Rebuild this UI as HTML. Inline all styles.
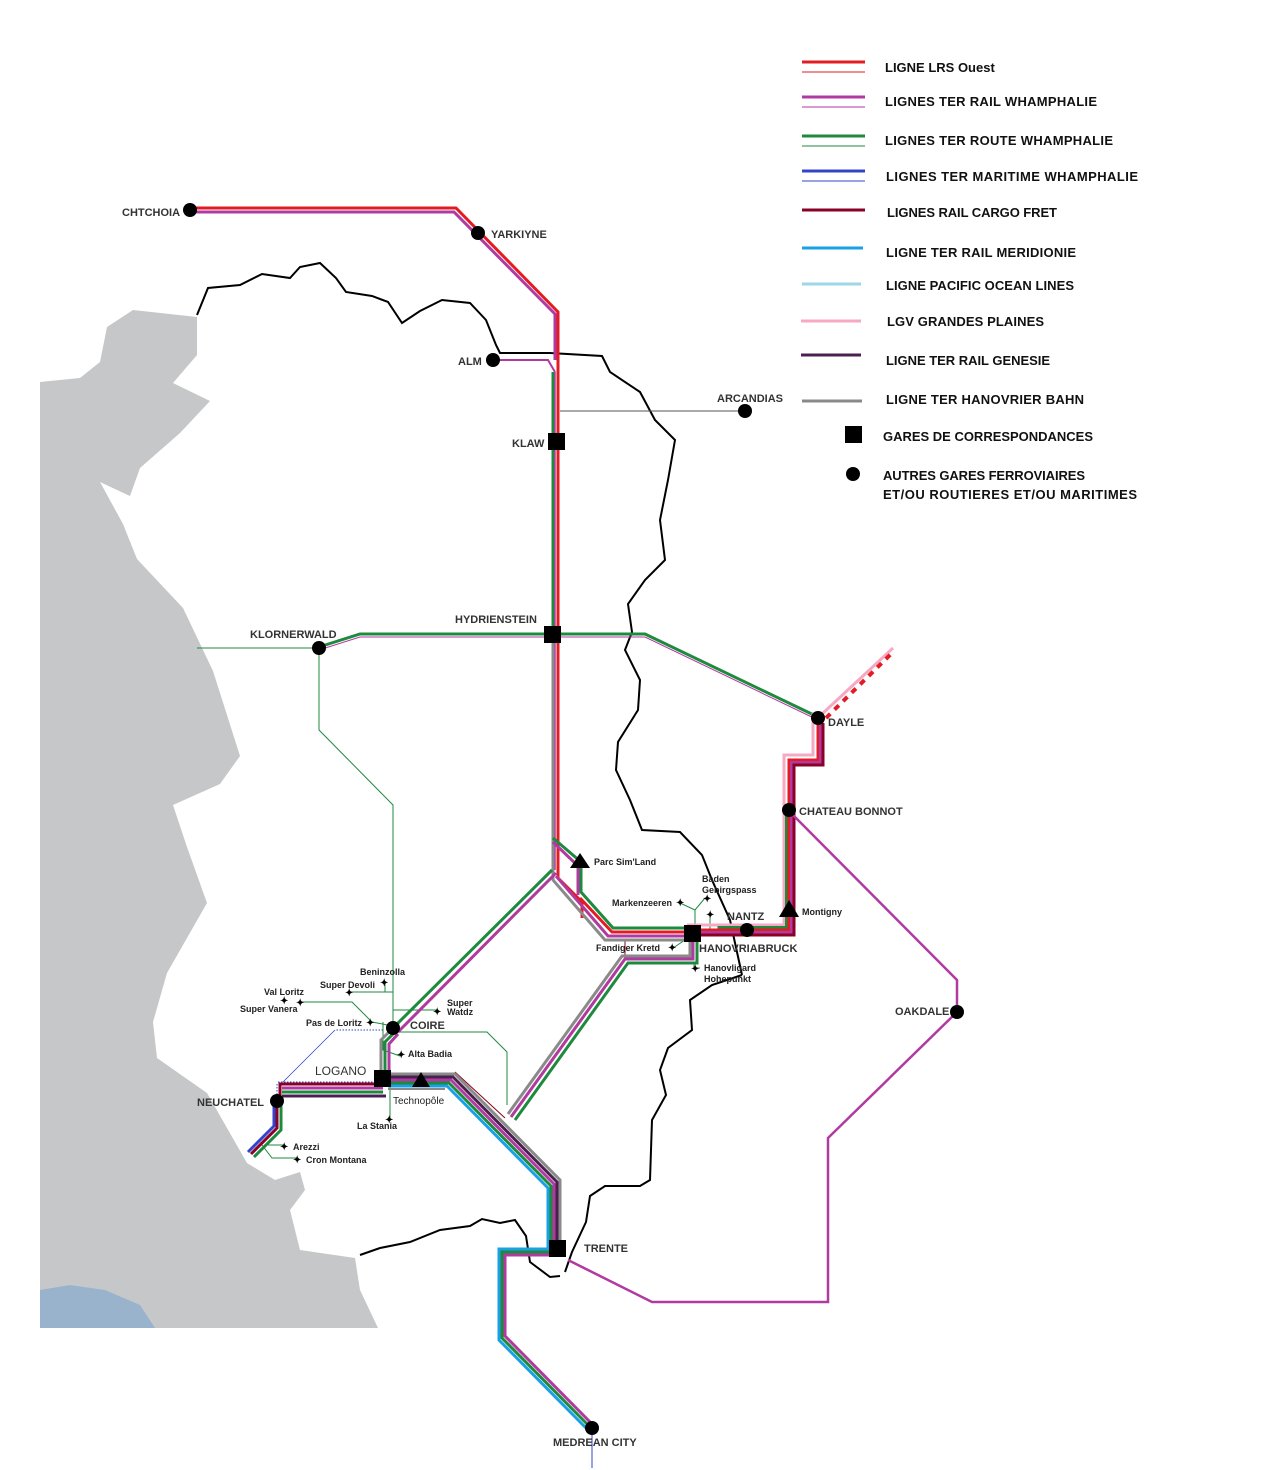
<!DOCTYPE html>
<html><head><meta charset="utf-8"><style>
html,body{margin:0;padding:0;background:#fff}
svg{display:block}
text{font-family:"Liberation Sans",Arial,sans-serif;font-weight:bold}
.lg{font-size:13px;fill:#111}
.st{font-size:11px;fill:#333}
.sm{font-size:9px;fill:#222}
</style></head><body>
<svg width="1285" height="1470" viewBox="0 0 1285 1470" xmlns="http://www.w3.org/2000/svg">
<!-- land -->
<polygon fill="#c6c7c9" points="40,382 80,378 100,362 107,327 133,310 197,317 197,355 173,383 210,401 180,433 140,468 130,496 100,482 123,524 137,559 183,608 213,671 240,756 220,784 173,805 187,847 207,903 167,973 153,1022 157,1058 207,1093 247,1163 275,1180 300,1172 305,1190 290,1210 300,1250 355,1258 360,1290 378,1328 40,1328"/>
<polygon fill="#9ab3cc" points="40,1290 70,1285 105,1290 140,1305 155,1328 40,1328"/>
<!-- borders -->
<polyline fill="none" stroke="#000" stroke-width="2" points="197,315 208,288 240,285 262,274 290,278 300,267 320,263 336,278 346,292 372,296 388,302 402,323 420,311 442,300 470,303 486,320 496,345 500,353 550,353 602,356 610,372 640,392 655,420 675,440 668,480 660,520 665,560 645,580 628,604 632,632 625,650 640,680 638,710 618,742 616,770 630,800 642,830 680,832 702,855 712,880 730,920 742,975"/>
<polyline fill="none" stroke="#000" stroke-width="2" points="742,975 712,985 690,1000 692,1030 668,1048 660,1070 666,1095 652,1120 650,1180 640,1186 605,1186 590,1196 586,1222 572,1252 565,1272"/>
<polyline fill="none" stroke="#000" stroke-width="2" points="360,1255 380,1248 410,1242 440,1230 470,1226 482,1219 500,1223 515,1220 526,1236 530,1262 550,1277 560,1276"/>

<!-- thin branches -->
<g fill="none" stroke="#1e8a3e" stroke-width="1">
<polyline points="197,648 319,648"/>
<polyline points="319,648 319,730 393,805 393,1028"/>
<polyline points="393,1032 487,1032 507,1052 507,1105"/>
<polyline points="383,1022 383,1050 400,1056"/>
<polyline points="350,992 393,992"/><polyline points="385,982 385,992"/>
<polyline points="300,1002 352,1002 372,1022 393,1026"/>
<polyline points="393,1010 438,1010"/>
<polyline points="390,1085 390,1120"/>
<polyline points="268,1145 285,1145"/><polyline points="262,1145 272,1158 298,1158"/>
<polyline points="680,903 695,910 705,898"/><polyline points="695,910 695,930"/>
<polyline points="673,948 685,940"/>
<polyline points="710,915 710,930"/>
<polyline points="694,962 694,968 700,968"/>
</g>
<line x1="560" y1="411" x2="745" y2="411" stroke="#555" stroke-width="1"/>
<polyline fill="none" stroke="#8b0018" stroke-width="1" points="625,957 625,940 690,940"/>
<polyline fill="none" stroke="#3344cc" stroke-width="1" stroke-dasharray="1.5,1.5" points="277,1084 277,1100"/>
<polyline fill="none" stroke="#3344cc" stroke-width="1" stroke-dasharray="1.5,1.5" points="278,1082 383,1082"/>
<polyline fill="none" stroke="#3344cc" stroke-width="1" stroke-dasharray="1.5,1.5" points="383,1030 335,1030"/>
<polyline fill="none" stroke="#3344cc" stroke-width="0.8" points="335,1030 283,1082"/>
<polyline fill="none" stroke="#8b0018" stroke-width="1" points="455,1072 505,1118"/>

<!-- CHTCHOIA line -->
<polyline fill="none" stroke="#b03aa0" stroke-width="3" points="190,212 454,212 555,314 555,360"/>
<polyline fill="none" stroke="#e31b23" stroke-width="3" points="190,208 456,208 558,312 558,878 582,902 582,918"/>
<polyline fill="none" stroke="#b03aa0" stroke-width="2" points="493,360 548,360 555,372"/>

<!-- trunk -->
<line x1="553" y1="372" x2="553" y2="870" stroke="#1e8a3e" stroke-width="3"/>
<line x1="555" y1="372" x2="555" y2="870" stroke="#b03aa0" stroke-width="1.5"/>
<polyline fill="none" stroke="#8a8a8a" stroke-width="3" points="553,640 553,880 605,940 692,940"/>
<polyline fill="none" stroke="#b03aa0" stroke-width="3" points="556,876 608,936 692,936"/>
<polyline fill="none" stroke="#e31b23" stroke-width="3" points="580,898 612,932 692,932"/>
<polyline fill="none" stroke="#b03aa0" stroke-width="3" points="553,842 578,866 578,895"/>
<polyline fill="none" stroke="#1e8a3e" stroke-width="3" points="553,838 581,862 581,892 613,928 692,928"/>

<!-- trunk to Coire -->
<polyline fill="none" stroke="#b03aa0" stroke-width="3" points="556,873 398,1032"/>
<polyline fill="none" stroke="#1e8a3e" stroke-width="3" points="552,870 393,1028"/>

<!-- horizontal Hydrienstein -->
<polyline fill="none" stroke="#b03aa0" stroke-width="1" points="319,650 360,637 645,637 818,720"/>
<polyline fill="none" stroke="#1e8a3e" stroke-width="3" points="319,647 360,634 645,634 818,717"/>

<!-- Nantz bundle -->
<g fill="none" stroke-width="3">
<polyline transform="translate(-5,-5)" stroke="#f7a8c4" points="692,930 789,930 789,760 818,760 818,718"/>
<polyline transform="translate(-2.5,-2.5)" stroke="#1e8a3e" points="720,930 789,930 789,815"/>
<polyline stroke="#e31b23" points="692,930 789,930 789,760 818,760 818,718"/>
<polyline transform="translate(2.5,2.5)" stroke="#b03aa0" points="692,930 789,930 789,760 818,760 818,718"/>
<polyline transform="translate(5,5)" stroke="#8b0026" points="692,930 789,930 789,760 818,760 818,718"/>
</g>
<line x1="822" y1="714" x2="893" y2="648" stroke="#f7a8c4" stroke-width="3"/>
<line x1="826" y1="718" x2="893" y2="652" stroke="#e31b23" stroke-width="4" stroke-dasharray="6,6"/>

<!-- purple loop -->
<polyline fill="none" stroke="#b03aa0" stroke-width="2.5" points="791,813 957,980 957,1012 828,1138 828,1302 652,1302 568,1260"/>

<!-- Hanovriabruck to south -->
<polyline fill="none" stroke="#1e8a3e" stroke-width="3" points="697,940 697,963 628,963 515,1120"/>
<polyline fill="none" stroke="#b03aa0" stroke-width="3" points="693,940 693,959 625,959 511,1117"/>
<polyline fill="none" stroke="#8a8a8a" stroke-width="3" points="690,940 690,956 622,956 508,1114"/>

<!-- Coire / Logano / Neuchatel -->
<g fill="none" stroke-width="3">
<polyline stroke="#8a8a8a" points="391,1030 381,1040 381,1078"/>
<polyline stroke="#1e8a3e" points="395,1032 385,1042 385,1078"/>
<polyline stroke="#b03aa0" points="398,1034 389,1044 389,1078"/>
<polyline stroke="#8b0026" points="383,1084 280,1084 280,1102"/>
<polyline stroke="#b03aa0" points="383,1088 282,1088"/>
<polyline stroke="#1e8a3e" points="383,1092 282,1092"/>
<polyline stroke="#4a2050" points="386,1096 282,1096"/>
<polyline stroke="#3344cc" points="274,1102 274,1126 248,1152"/>
<polyline stroke="#8b0026" points="277,1102 277,1128 251,1154"/>
<polyline stroke="#1e8a3e" points="281,1102 281,1130 254,1157"/>
</g>
<!-- Logano to Trente -->
<g fill="none" stroke-width="3">
<polyline stroke="#8a8a8a" points="560,1248 560,1180 455,1074 388,1074"/>
<polyline stroke="#4a2050" points="557,1248 557,1182 453,1077 388,1077"/>
<polyline stroke="#b03aa0" points="554,1248 554,1184 451,1080 388,1080"/>
<polyline stroke="#1e8a3e" points="551,1248 551,1186 449,1083 388,1083"/>
<polyline stroke="#1aa0e6" points="548,1248 548,1188 447,1086 388,1086"/>
<polyline stroke="#8a8a8a" points="388,1089 445,1089" stroke-width="2"/>
</g>
<!-- Trente to Medrean -->
<g fill="none" stroke-width="3">
<polyline stroke="#1aa0e6" points="556,1249 499,1249 499,1340 588,1430"/>
<polyline stroke="#1e8a3e" points="556,1252 502,1252 502,1338 591,1428"/>
<polyline stroke="#b03aa0" points="556,1255 505,1255 505,1336 594,1426"/>
</g>
<line x1="592" y1="1430" x2="592" y2="1468" stroke="#3344cc" stroke-width="1"/>

<!-- stations -->
<g fill="#000">
<circle cx="190" cy="210" r="7"/><circle cx="478" cy="233" r="7"/>
<circle cx="493" cy="360" r="7"/><circle cx="745" cy="411" r="7"/>
<circle cx="319" cy="648" r="7"/><circle cx="818" cy="718" r="7"/>
<circle cx="789" cy="810" r="7"/><circle cx="747" cy="930" r="7"/>
<circle cx="957" cy="1012" r="7"/><circle cx="393" cy="1028" r="7"/>
<circle cx="277" cy="1101" r="7"/><circle cx="592" cy="1428" r="7"/>
<rect x="548" y="433" width="17" height="17"/><rect x="544" y="626" width="17" height="17"/>
<rect x="684" y="925" width="17" height="17"/><rect x="374" y="1070" width="17" height="17"/>
<rect x="549" y="1240" width="17" height="17"/>
<polygon points="580,853 570,868 590,868"/><polygon points="789,900 779,917 799,917"/>
<polygon points="421,1072 412,1087 430,1087"/>
</g>
<g fill="#000" font-size="11" style="font-family:'DejaVu Sans',sans-serif">
<text x="676" y="906" font-size="10">✦</text><text x="703" y="902" font-size="10">✦</text>
<text x="706" y="918" font-size="10">✦</text><text x="668" y="951" font-size="10">✦</text>
<text x="691" y="972" font-size="10">✦</text><text x="380" y="986" font-size="10">✦</text>
<text x="345" y="996" font-size="10">✦</text><text x="280" y="1004" font-size="10">✦</text>
<text x="296" y="1006" font-size="10">✦</text><text x="366" y="1026" font-size="10">✦</text>
<text x="433" y="1015" font-size="10">✦</text><text x="397" y="1058" font-size="10">✦</text>
<text x="385" y="1123" font-size="10">✦</text><text x="280" y="1150" font-size="10">✦</text>
<text x="293" y="1163" font-size="10">✦</text>
</g>

<!-- labels -->
<text class="st" x="122" y="216">CHTCHOIA</text>
<text class="st" x="491" y="238">YARKIYNE</text>
<text class="st" x="458" y="365">ALM</text>
<text class="st" x="717" y="402">ARCANDIAS</text>
<text class="st" x="512" y="447">KLAW</text>
<text class="st" x="455" y="623">HYDRIENSTEIN</text>
<text class="st" x="250" y="638">KLORNERWALD</text>
<text class="st" x="828" y="726">DAYLE</text>
<text class="st" x="799" y="815">CHATEAU BONNOT</text>
<text class="sm" x="594" y="865">Parc Sim'Land</text>
<text class="sm" x="702" y="882">Baden</text>
<text class="sm" x="702" y="893">Gebirgspass</text>
<text class="sm" x="612" y="906">Markenzeeren</text>
<text class="st" x="727" y="920">NANTZ</text>
<text class="sm" x="802" y="915">Montigny</text>
<text class="sm" x="596" y="951">Fandiger Kretd</text>
<text class="st" x="699" y="952">HANOVRIABRUCK</text>
<text class="sm" x="704" y="971">Hanovligard</text>
<text class="sm" x="704" y="982">Hohepunkt</text>
<text class="st" x="895" y="1015">OAKDALE</text>
<text class="sm" x="360" y="975">Beninzolla</text>
<text class="sm" x="320" y="988">Super Devoli</text>
<text class="sm" x="264" y="995">Val Loritz</text>
<text class="sm" x="240" y="1012">Super Vanera</text>
<text class="sm" x="306" y="1026">Pas de Loritz</text>
<text class="sm" x="447" y="1006" font-size="8">Super</text>
<text class="sm" x="447" y="1015">Watdz</text>
<text class="st" x="410" y="1029">COIRE</text>
<text class="sm" x="408" y="1057" font-size="8">Alta Badia</text>
<text class="st" x="315" y="1075" style="font-size:12px;font-weight:normal">LOGANO</text>
<text class="st" x="197" y="1106">NEUCHATEL</text>
<text class="sm" x="393" y="1104" style="font-weight:normal;font-size:10px">Technopôle</text>
<text class="sm" x="357" y="1129" font-size="8">La Stania</text>
<text class="sm" x="293" y="1150">Arezzi</text>
<text class="sm" x="306" y="1163">Cron Montana</text>
<text class="st" x="584" y="1252">TRENTE</text>
<text class="st" x="553" y="1446">MEDREAN CITY</text>

<!-- legend -->
<g stroke-width="3">
<line x1="802" y1="62" x2="865" y2="62" stroke="#e31b23"/><line x1="802" y1="72" x2="865" y2="72" stroke="#e31b23" stroke-width="1"/>
<line x1="802" y1="97" x2="865" y2="97" stroke="#b03aa0"/><line x1="802" y1="107" x2="865" y2="107" stroke="#b03aa0" stroke-width="1"/>
<line x1="802" y1="136" x2="865" y2="136" stroke="#1e8a3e"/><line x1="802" y1="146" x2="865" y2="146" stroke="#1e8a3e" stroke-width="1"/>
<line x1="802" y1="171" x2="865" y2="171" stroke="#3344cc"/><line x1="802" y1="181" x2="865" y2="181" stroke="#3344cc" stroke-width="1"/>
<line x1="802" y1="210" x2="865" y2="210" stroke="#8b0026"/>
<line x1="802" y1="248" x2="863" y2="248" stroke="#1aa0e6"/>
<line x1="802" y1="284" x2="861" y2="284" stroke="#9dd6e6"/>
<line x1="801" y1="321" x2="861" y2="321" stroke="#f7a8c4"/>
<line x1="801" y1="355" x2="861" y2="355" stroke="#4a2050"/>
<line x1="802" y1="401" x2="862" y2="401" stroke="#8a8a8a"/>
</g>
<rect x="845" y="426" width="17" height="17" fill="#000"/>
<circle cx="853" cy="474" r="7" fill="#000"/>
<text class="lg" x="885" y="72">LIGNE LRS Ouest</text>
<text class="lg" x="885" y="106" textLength="212">LIGNES TER RAIL WHAMPHALIE</text>
<text class="lg" x="885" y="145" textLength="228">LIGNES TER ROUTE WHAMPHALIE</text>
<text class="lg" x="886" y="181" textLength="252">LIGNES TER MARITIME WHAMPHALIE</text>
<text class="lg" x="887" y="217" textLength="170">LIGNES RAIL CARGO FRET</text>
<text class="lg" x="886" y="257" textLength="190">LIGNE TER RAIL MERIDIONIE</text>
<text class="lg" x="886" y="290" textLength="188">LIGNE PACIFIC OCEAN LINES</text>
<text class="lg" x="887" y="326" textLength="157">LGV GRANDES PLAINES</text>
<text class="lg" x="886" y="365" textLength="164">LIGNE TER RAIL GENESIE</text>
<text class="lg" x="886" y="404" textLength="198">LIGNE TER HANOVRIER BAHN</text>
<text class="lg" x="883" y="441" textLength="210">GARES DE CORRESPONDANCES</text>
<text class="lg" x="883" y="480" textLength="202">AUTRES GARES FERROVIAIRES</text>
<text class="lg" x="883" y="499" textLength="254">ET/OU ROUTIERES ET/OU MARITIMES</text>
</svg>
</body></html>
